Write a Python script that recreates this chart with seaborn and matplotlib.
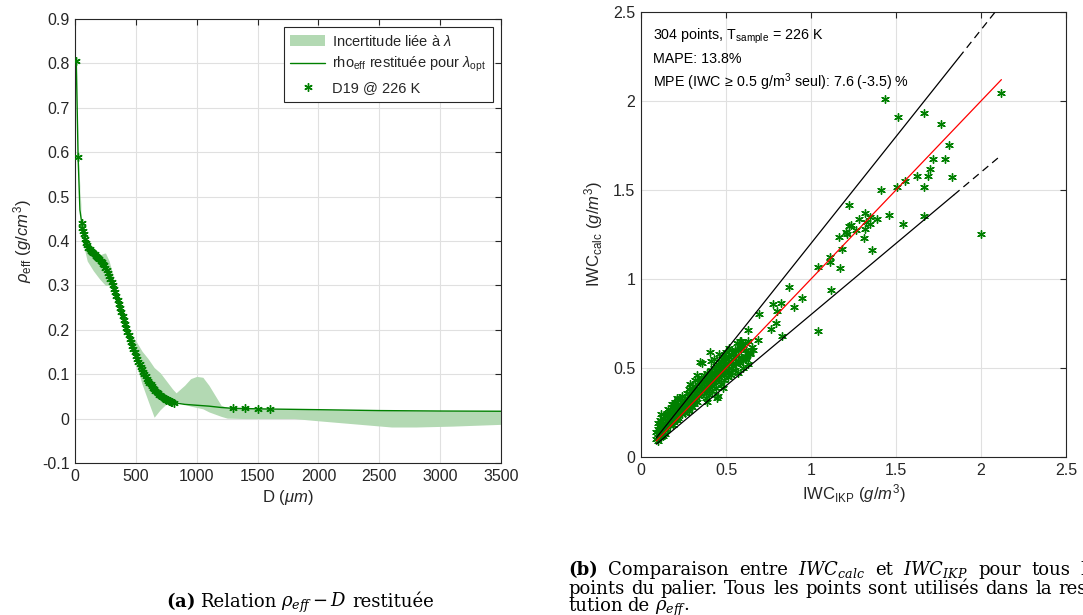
import numpy as np
import pandas as pd
import matplotlib
matplotlib.use("Agg")
import matplotlib.pyplot as plt
import seaborn as sns
from matplotlib.patches import Patch
from matplotlib.lines import Line2D

# ---------------- data: left panel ----------------
D_star = [10, 25, 55, 60, 65, 70, 80, 90, 100, 110, 120, 130, 140, 150, 160, 170,
          180, 190, 200, 210, 220, 230, 240, 250, 260, 270, 280, 290, 300, 310,
          320, 330, 340, 350, 360, 370, 380, 390, 400, 410, 420, 430, 440, 450,
          460, 470, 480, 490, 500, 510, 520, 530, 540, 550, 560, 570, 580, 590,
          600, 610, 620, 630, 640, 650, 660, 670, 680, 690, 700, 710, 720, 730,
          740, 750, 760, 770, 780, 790, 800, 810]
rho_star = [0.805, 0.590, 0.440, 0.430, 0.422, 0.415, 0.404, 0.395, 0.390, 0.385,
            0.381, 0.378, 0.375, 0.372, 0.370, 0.367, 0.365, 0.362, 0.359, 0.356,
            0.353, 0.349, 0.345, 0.340, 0.334, 0.328, 0.322, 0.315, 0.308, 0.300,
            0.292, 0.284, 0.276, 0.267, 0.259, 0.250, 0.241, 0.232, 0.223, 0.214,
            0.205, 0.196, 0.188, 0.180, 0.172, 0.164, 0.156, 0.149, 0.142, 0.135,
            0.128, 0.122, 0.116, 0.111, 0.105, 0.100, 0.095, 0.090, 0.085, 0.081,
            0.077, 0.073, 0.069, 0.066, 0.063, 0.060, 0.057, 0.054, 0.052, 0.050,
            0.048, 0.046, 0.044, 0.042, 0.041, 0.040, 0.039, 0.038, 0.037, 0.036]
D_star_big = [1300, 1400, 1500, 1600]
rho_star_big = [0.023, 0.023, 0.022, 0.022]

D_tail = [40, 900, 1000, 1100, 1200, 1300, 1400, 1500, 1600, 2000, 2500, 3000, 3500]
rho_tail = [0.470, 0.032, 0.030, 0.028, 0.025, 0.023, 0.0225, 0.022, 0.0215,
            0.020, 0.018, 0.017, 0.0165]

D_band = [10, 25, 55, 70, 100, 150, 200, 233, 250, 280, 300, 350, 400, 450, 500,
          550, 600, 650, 700, 750, 800, 830, 900, 950, 1000, 1050, 1100, 1200,
          1250, 1400, 1800, 2000, 2300, 2600, 2800, 3100, 3500]
rho_low = [0.800, 0.585, 0.430, 0.390, 0.355, 0.333, 0.315, 0.305, 0.300, 0.300,
           0.300, 0.265, 0.222, 0.175, 0.125, 0.078, 0.040, 0.003, 0.020, 0.033,
           0.040, 0.040, 0.032, 0.028, 0.025, 0.022, 0.015, 0.005, 0.001, 0.000,
           0.000, -0.005, -0.012, -0.019, -0.019, -0.017, -0.013]
rho_up = [0.810, 0.595, 0.445, 0.420, 0.395, 0.378, 0.368, 0.372, 0.373, 0.355,
          0.335, 0.270, 0.226, 0.190, 0.175, 0.152, 0.135, 0.115, 0.103, 0.085,
          0.067, 0.058, 0.075, 0.090, 0.095, 0.093, 0.075, 0.030, 0.025, 0.024,
          0.021, 0.020, 0.019, 0.018, 0.0175, 0.017, 0.0165]

# ---------------- data: right panel ----------------
IWC_IKP = [
    0.09, 0.09, 0.10, 0.10, 0.10, 0.10, 0.11, 0.11, 0.11, 0.11, 0.12, 0.12, 0.12, 0.12,
    0.13, 0.13, 0.13, 0.13, 0.14, 0.14, 0.14, 0.15, 0.15, 0.15, 0.10, 0.12, 0.14, 0.11,
    0.13, 0.15,
    0.16, 0.16, 0.17, 0.17, 0.17, 0.18, 0.18, 0.18, 0.19, 0.19, 0.19, 0.20, 0.20, 0.20,
    0.21, 0.21, 0.21, 0.22, 0.22, 0.22, 0.23, 0.23, 0.23, 0.24, 0.24, 0.24, 0.25, 0.25,
    0.16, 0.18, 0.20, 0.22, 0.24, 0.19, 0.21, 0.23,
    0.26, 0.26, 0.27, 0.27, 0.28, 0.28, 0.28, 0.29, 0.29, 0.30, 0.30, 0.30, 0.31, 0.31,
    0.32, 0.32, 0.32, 0.33, 0.33, 0.34, 0.34, 0.34, 0.35, 0.35, 0.35, 0.27, 0.29, 0.31,
    0.33, 0.30, 0.26, 0.28, 0.32,
    0.36, 0.36, 0.37, 0.37, 0.37, 0.38, 0.38, 0.38, 0.39, 0.39, 0.39, 0.40, 0.40, 0.40,
    0.41, 0.41, 0.41, 0.42, 0.42, 0.42, 0.43, 0.43, 0.43, 0.44, 0.44, 0.44, 0.45, 0.45,
    0.45, 0.38, 0.40, 0.42, 0.44, 0.36, 0.41, 0.43, 0.39,
    0.46, 0.46, 0.47, 0.47, 0.47, 0.48, 0.48, 0.48, 0.49, 0.49, 0.49, 0.50, 0.50, 0.50,
    0.51, 0.51, 0.51, 0.52, 0.52, 0.52, 0.53, 0.53, 0.53, 0.54, 0.54, 0.54, 0.55, 0.55,
    0.55, 0.47, 0.49, 0.51, 0.53, 0.46, 0.50, 0.52, 0.48, 0.45,
    0.56, 0.56, 0.57, 0.57, 0.58, 0.58, 0.59, 0.59, 0.60, 0.60, 0.61, 0.61, 0.62, 0.62,
    0.63, 0.63, 0.64, 0.65, 0.66, 0.57, 0.60, 0.63, 0.59, 0.62,
    0.349, 0.408, 0.563, 0.582, 0.688, 0.628, 0.765, 0.828, 0.794, 0.694, 0.798, 0.900,
    0.775, 0.825, 0.945, 0.871, 1.118, 1.041, 1.043, 1.171, 1.112, 1.114, 1.184, 1.357,
    1.167, 1.312, 1.206, 1.210, 1.265, 1.320, 1.237, 1.224, 1.347, 1.324, 1.280, 1.390,
    1.318, 1.349, 1.461, 1.665, 1.543, 1.225, 1.410, 1.506, 1.555, 1.667, 1.624, 1.690,
    1.830, 1.698, 1.718, 1.786, 1.810, 1.765, 1.510, 1.665, 1.435, 2.118, 1.998, 0.580,
    0.641, 0.445, 0.376]
IWC_calc = [
    0.10, 0.14, 0.11, 0.13, 0.16, 0.19, 0.12, 0.15, 0.18, 0.21, 0.13, 0.17, 0.20, 0.24,
    0.14, 0.16, 0.19, 0.22, 0.15, 0.18, 0.23, 0.16, 0.20, 0.25, 0.09, 0.11, 0.13, 0.17,
    0.12, 0.18,
    0.19, 0.23, 0.18, 0.22, 0.26, 0.20, 0.24, 0.28, 0.21, 0.26, 0.30, 0.22, 0.27, 0.31,
    0.21, 0.25, 0.29, 0.24, 0.28, 0.32, 0.25, 0.29, 0.33, 0.24, 0.27, 0.31, 0.26, 0.30,
    0.27, 0.30, 0.24, 0.22, 0.34, 0.18, 0.33, 0.27,
    0.29, 0.33, 0.27, 0.31, 0.30, 0.34, 0.38, 0.29, 0.41, 0.31, 0.35, 0.39, 0.33, 0.37,
    0.32, 0.36, 0.40, 0.35, 0.46, 0.34, 0.38, 0.42, 0.36, 0.40, 0.44, 0.36, 0.32, 0.30,
    0.31, 0.28, 0.25, 0.26, 0.43,
    0.37, 0.41, 0.38, 0.42, 0.46, 0.36, 0.40, 0.44, 0.39, 0.43, 0.47, 0.38, 0.42, 0.46,
    0.41, 0.45, 0.49, 0.40, 0.44, 0.48, 0.42, 0.46, 0.50, 0.43, 0.47, 0.51, 0.44, 0.48,
    0.52, 0.33, 0.35, 0.37, 0.39, 0.53, 0.54, 0.55, 0.31,
    0.45, 0.49, 0.46, 0.50, 0.54, 0.47, 0.51, 0.55, 0.48, 0.52, 0.56, 0.47, 0.51, 0.55,
    0.49, 0.53, 0.57, 0.48, 0.52, 0.56, 0.50, 0.54, 0.58, 0.51, 0.55, 0.59, 0.49, 0.53,
    0.60, 0.41, 0.43, 0.45, 0.46, 0.58, 0.59, 0.61, 0.39, 0.34,
    0.52, 0.57, 0.54, 0.60, 0.53, 0.62, 0.56, 0.61, 0.55, 0.63, 0.57, 0.64, 0.56, 0.60,
    0.59, 0.65, 0.58, 0.62, 0.60, 0.47, 0.50, 0.52, 0.65, 0.55,
    0.535, 0.590, 0.642, 0.653, 0.657, 0.712, 0.717, 0.682, 0.751, 0.805, 0.822, 0.841,
    0.860, 0.863, 0.892, 0.957, 0.938, 0.710, 1.069, 1.060, 1.125, 1.097, 1.170, 1.165,
    1.238, 1.228, 1.266, 1.255, 1.274, 1.281, 1.305, 1.300, 1.309, 1.318, 1.337, 1.335,
    1.369, 1.350, 1.361, 1.356, 1.309, 1.414, 1.498, 1.517, 1.552, 1.517, 1.577, 1.580,
    1.571, 1.620, 1.672, 1.676, 1.751, 1.869, 1.908, 1.934, 2.011, 2.047, 1.255, 0.629,
    0.584, 0.330, 0.376]

ref_x = [0.09, 2.12]           # 1:1 line range
up_solid_x = [0.09, 1.87]      # +20 % line
up_dash_x = [1.87, 2.09]
low_solid_x = [0.09, 1.84]     # -20 % line
low_dash_x = [1.84, 2.12]
up_factor, low_factor = 1.2, 0.8

caption_a = ["$\\mathbf{(a)}$", "Relation", "$\\rho_{eff}-D$", "restituée"]
caption_b = [["(b)", "Comparaison", "entre", "$IWC_{calc}$", "et", "$IWC_{IKP}$",
              "pour", "tous", "les"],
             ["points", "du", "palier.", "Tous", "les", "points", "sont", "utilisés",
              "dans", "la", "resti-"],
             ["tution", "de", "$\\rho_{eff}$."]]

# ---------------- style ----------------
sns.set_theme(style="white")
plt.rcParams["font.family"] = ["Liberation Sans", "DejaVu Sans"]
plt.rcParams["mathtext.fontset"] = "custom"
plt.rcParams["mathtext.rm"] = "Liberation Sans"
plt.rcParams["mathtext.it"] = "Liberation Sans:italic"
plt.rcParams["mathtext.bf"] = "Liberation Sans:bold"

GREEN = (0.0, 0.5, 0.0)
BAND = (0.70, 0.85, 0.70)
AXC = (0.15, 0.15, 0.15)
GRIDC = (0.88, 0.88, 0.88)
AST = (6, 2, 0)
W_PX, H_PX = 1083, 615

fig = plt.figure(figsize=(10.83, 6.15), dpi=100)
axL = fig.add_axes([0.0693, 0.2472, 0.3933, 0.7219])
axR = fig.add_axes([0.5919, 0.2569, 0.3924, 0.7236])


def matlab_axes(ax):
    for s in ax.spines.values():
        s.set_color(AXC)
        s.set_linewidth(0.8)
    ax.tick_params(direction="in", top=True, right=True, length=4, width=0.8,
                   colors=AXC, labelsize=11.5, labelcolor=AXC, pad=4)
    ax.grid(True, color=GRIDC, linewidth=0.8)
    ax.set_axisbelow(True)


# ---------------- left panel ----------------
axL.fill_between(D_band, rho_low, rho_up, color=BAND, linewidth=0, zorder=1)
df_line = pd.DataFrame({"D": D_star + D_tail, "rho": rho_star + rho_tail}).sort_values("D")
sns.lineplot(data=df_line, x="D", y="rho", ax=axL, color=GREEN, linewidth=1.0,
             zorder=2, estimator=None, sort=False)
axL.plot(D_star, rho_star, linestyle="none", marker=AST, markersize=6,
         markeredgewidth=1.0, color=GREEN, zorder=3)
axL.plot(D_star_big, rho_star_big, linestyle="none", marker=AST, markersize=6,
         markeredgewidth=1.0, color=GREEN, zorder=3)
axL.set_xlim(0, 3500)
axL.set_ylim(-0.1, 0.9)
axL.set_xticks(np.arange(0, 3501, 500))
axL.set_yticks(np.round(np.arange(-0.1, 0.91, 0.1), 1))
axL.set_yticklabels(["-0.1", "0", "0.1", "0.2", "0.3", "0.4", "0.5", "0.6",
                     "0.7", "0.8", "0.9"])
matlab_axes(axL)
axL.set_xlabel(r"D ($\mu m$)", fontsize=12, color=AXC, labelpad=3)
axL.set_ylabel(r"$\rho_{\mathrm{eff}}$ ($g/cm^3$)", fontsize=12, color=AXC, labelpad=6)

handles = [Patch(facecolor=BAND, edgecolor="none"),
           Line2D([], [], color=GREEN, linewidth=1.0),
           Line2D([], [], linestyle="none", marker=AST, markersize=6,
                  markeredgewidth=1.0, color=GREEN)]
labels = [r"Incertitude liée à $\lambda$",
          r"rho$_{\mathrm{eff}}$ restituée pour $\lambda_{\mathrm{opt}}$",
          "D19 @ 226 K"]
leg = axL.legend(handles, labels, loc="upper right", fontsize=10.5,
                 frameon=True, fancybox=False, edgecolor=AXC, framealpha=1,
                 borderpad=0.45, handlelength=2.4, labelspacing=0.45,
                 borderaxespad=0.55, handletextpad=0.5)
leg.get_frame().set_linewidth(0.8)

# ---------------- right panel ----------------
df_sc = pd.DataFrame({"IKP": IWC_IKP, "calc": IWC_calc})
sns.scatterplot(data=df_sc, x="IKP", y="calc", ax=axR, marker=AST, s=30,
                color=GREEN, edgecolor=GREEN, linewidth=1.0, zorder=3, legend=False)
rx = np.array(ref_x)
axR.plot(rx, rx, color="red", linewidth=0.9, zorder=4)
ux = np.array(up_solid_x)
axR.plot(ux, up_factor * ux, color="black", linewidth=0.9, zorder=4)
ux = np.array(up_dash_x)
axR.plot(ux, up_factor * ux, color="black", linewidth=0.9, linestyle=(0, (6, 4)), zorder=4)
lx = np.array(low_solid_x)
axR.plot(lx, low_factor * lx, color="black", linewidth=0.9, zorder=4)
lx = np.array(low_dash_x)
axR.plot(lx, low_factor * lx, color="black", linewidth=0.9, linestyle=(0, (6, 4)), zorder=4)

axR.set_xlim(0, 2.5)
axR.set_ylim(0, 2.5)
ticks = [0, 0.5, 1, 1.5, 2, 2.5]
tlabels = ["0", "0.5", "1", "1.5", "2", "2.5"]
axR.set_xticks(ticks)
axR.set_xticklabels(tlabels)
axR.set_yticks(ticks)
axR.set_yticklabels(tlabels)
matlab_axes(axR)
axR.set_xlabel(r"IWC$_{\mathrm{IKP}}$ ($g/m^3$)", fontsize=12, color=AXC, labelpad=3)
axR.set_ylabel(r"IWC$_{\mathrm{calc}}$ ($g/m^3$)", fontsize=12, color=AXC, labelpad=6)

txt_kw = dict(transform=axR.transAxes, fontsize=10.3, color="black", ha="left", va="center")
axR.text(0.027, 0.945, r"304 points, T$_{\mathrm{sample}}$ = 226 K", **txt_kw)
axR.text(0.027, 0.894, "MAPE: 13.8%", **txt_kw)
axR.text(0.027, 0.843, r"MPE (IWC$\,\geq\,$0.5 g/m$^3$ seul): 7.6 (-3.5) %", **txt_kw)

# ---------------- captions (justified like LaTeX) ----------------
cap_kw = dict(fontsize=13, family="DejaVu Serif", math_fontfamily="dejavuserif",
              color="black", va="baseline", ha="left")
renderer = fig.canvas.get_renderer()


def place_words(words, x0_px, y_px, x1_px=None, space_px=5.0):
    texts = []
    for w in words:
        kw = dict(cap_kw)
        if w == "(b)":
            kw["fontweight"] = "bold"
        texts.append(fig.text(0, 1 - y_px / H_PX, w, **kw))
    widths = [t.get_window_extent(renderer).width for t in texts]
    if x1_px is None:
        gap = space_px
    else:
        gap = (x1_px - x0_px - sum(widths)) / (len(words) - 1)
    x = x0_px
    for t, w in zip(texts, widths):
        t.set_x(x / W_PX)
        x += w + gap
    return x - gap


# caption (a): single line, centred under the left panel
tmp_end = place_words(caption_a, 0, 607)
shift = 300 - tmp_end / 2
for t in fig.texts[-len(caption_a):]:
    t.set_x(t.get_position()[0] + shift / W_PX)

# caption (b): three lines, first two justified to the (cropped) column width
place_words(caption_b[0], 568, 575, x1_px=1106)
place_words(caption_b[1], 568, 594, x1_px=1106)
place_words(caption_b[2], 568, 611)

fig.savefig("out.png", dpi=100)
